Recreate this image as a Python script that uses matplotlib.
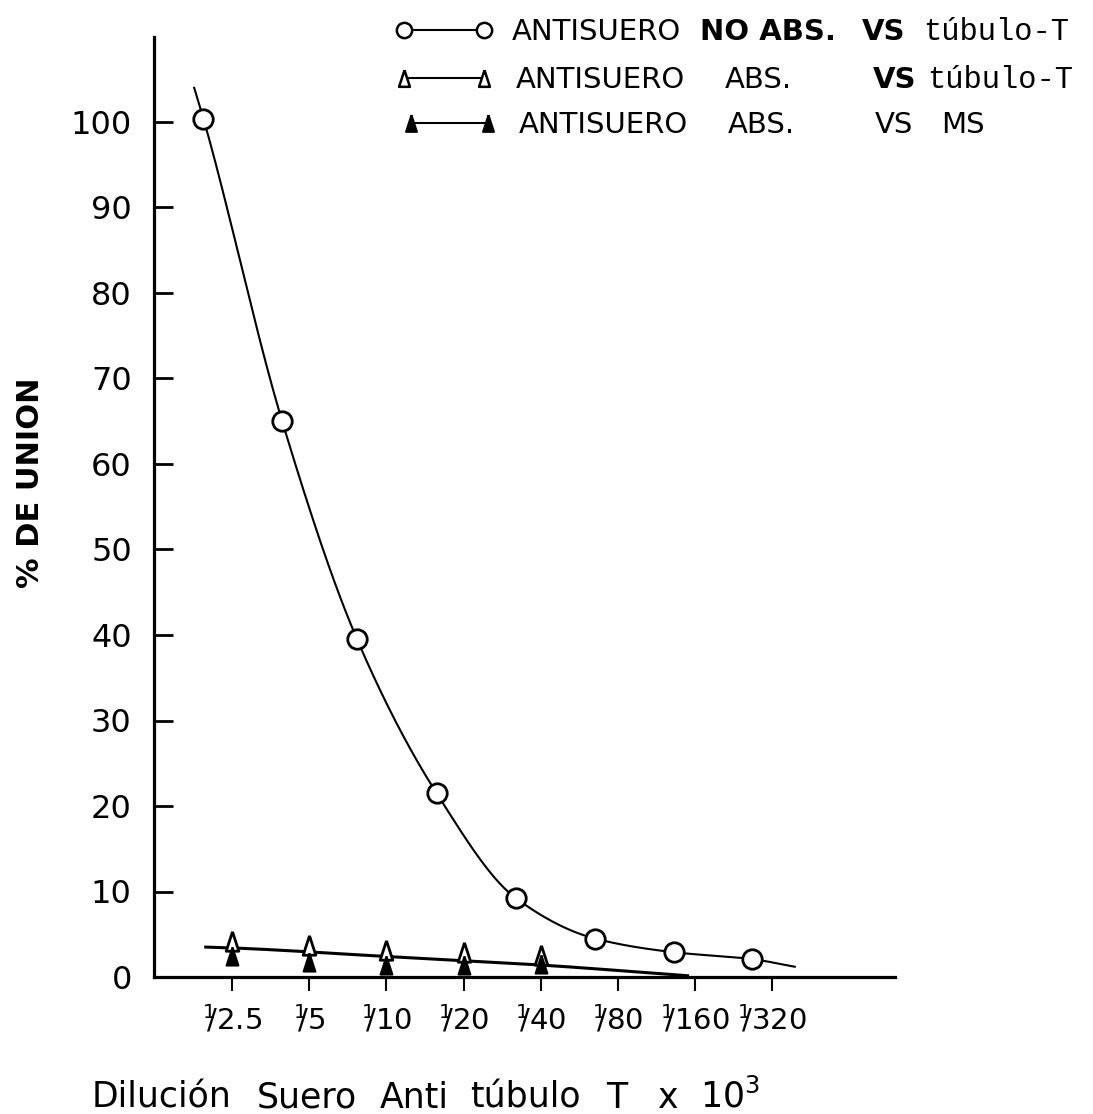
import numpy as np
import matplotlib
matplotlib.use("Agg")
import matplotlib.pyplot as plt
from matplotlib.lines import Line2D

plt.rcParams['font.family'] = ['DejaVu Sans']
plt.rcParams['mathtext.fontset'] = 'dejavusans'

# dilution ticks (1/x), plotted at equal spacing
dilutions = ['2.5', '5', '10', '20', '40', '80', '160', '320']

# open circles: antisuero no absorbido vs tubulo-T (x in tick units)
circle_x = [-0.37, 0.65, 1.62, 2.65, 3.68, 4.70, 5.72, 6.73]
circle_y = [100.4, 65.0, 39.5, 21.5, 9.2, 4.5, 2.9, 2.1]
# hand drawn curve through them, start and end
curve_start = (-0.49, 104.0)
curve_end = (7.29, 1.2)

# triangles at the first five dilutions
tri_x = [0, 1, 2, 3, 4]
open_tri = [4.2, 3.7, 3.1, 2.9, 2.6]     # antisuero abs. vs tubulo-T
filled_tri = [2.4, 1.8, 1.4, 1.4, 1.5]   # antisuero abs. vs MS
tri_line_x = [-0.34, 0.0, 2.0, 4.0, 5.9]
tri_line_y = [3.5, 3.4, 2.4, 1.4, 0.15]

yticks = [0, 10, 20, 30, 40, 50, 60, 70, 80, 90, 100]


def pchip(x, y, xs):
    # monotone cubic so the drawn curve doesn't wiggle
    x = np.asarray(x, float); y = np.asarray(y, float)
    h = np.diff(x); d = np.diff(y) / h
    m = np.zeros_like(y)
    for k in range(1, len(x) - 1):
        if d[k-1] * d[k] > 0:
            w1 = 2*h[k] + h[k-1]; w2 = h[k] + 2*h[k-1]
            m[k] = (w1 + w2) / (w1/d[k-1] + w2/d[k])
    m[0] = d[0]; m[-1] = d[-1]
    i = np.clip(np.searchsorted(x, xs) - 1, 0, len(x) - 2)
    t = (xs - x[i]) / h[i]
    h00 = 2*t**3 - 3*t**2 + 1; h10 = t**3 - 2*t**2 + t
    h01 = -2*t**3 + 3*t**2; h11 = t**3 - t**2
    return h00*y[i] + h10*h[i]*m[i] + h01*y[i+1] + h11*h[i]*m[i+1]


W, H = 1093, 1114
fig = plt.figure(figsize=(W/100, H/100), dpi=100)

def fp(x, y):
    return x / W, 1 - y / H

ax_left, ax_right, ax_top, ax_bot = 154, 895, 37, 977
ax = fig.add_axes([ax_left/W, 1 - ax_bot/H, (ax_right-ax_left)/W, (ax_bot-ax_top)/H])

kx = [curve_start[0]] + circle_x + [curve_end[0]]
ky = [curve_start[1]] + circle_y + [curve_end[1]]
xs = np.linspace(kx[0], kx[-1], 400)
ax.plot(xs, pchip(kx, ky, xs), color='black', lw=1.5)
ax.plot(circle_x, circle_y, 'o', ms=14, mfc='white', mec='black', mew=2, clip_on=False)

xs2 = np.linspace(tri_line_x[0], tri_line_x[-1], 200)
ax.plot(xs2, pchip(tri_line_x, tri_line_y, xs2), color='black', lw=2.2)

tri = [(0, 1), (-0.65, -1), (0.65, -1), (0, 1)]
ax.plot(tri_x, open_tri, ls='none', marker=tri, ms=14, mfc='white', mec='black', mew=2, clip_on=False)
ax.plot(tri_x, filled_tri, ls='none', marker=tri, ms=13, mfc='black', mec='black', mew=1.5, clip_on=False)

ax.set_xlim((ax_left - 232) / 77.2, (ax_right - 232) / 77.2)
ax.set_ylim(0, (ax_bot - ax_top) / 8.55)

ax.set_xticks(range(len(dilutions)))
ax.set_xticklabels([r'$^{\mathregular{1}}\!\!/\mathregular{%s}$' % d for d in dilutions], fontsize=21)
ax.set_yticks(yticks)
ax.set_yticklabels([str(v) for v in yticks], fontsize=23)
ax.tick_params(axis='x', direction='out', length=10, width=1.5, pad=9)
ax.tick_params(axis='y', direction='in', length=14, width=2, pad=16)

for s in ['top', 'right']:
    ax.spines[s].set_visible(False)
for s in ['left', 'bottom']:
    ax.spines[s].set_linewidth(2.3)

fig.text(*fp(31, 483), '% DE UNION', rotation=90, fontsize=22, fontweight='bold',
         ha='center', va='center')

# x title, words spaced out like the typed original
title_words = [('Dilución', 92), ('Suero', 257), ('Anti', 380), ('túbulo', 470),
               ('T', 606), ('x', 658), (r'10$^{3}$', 700)]
for w, x in title_words:
    fig.text(*fp(x, 1108), w, fontsize=25, ha='left', va='baseline')

# legend drawn by hand like the original
rows = [30, 78, 123]
fig.add_artist(Line2D([404/W, 484/W], [fp(0, rows[0])[1]]*2, transform=fig.transFigure,
                      color='black', lw=1.5, marker='o', ms=11, mfc='white', mec='black', mew=1.8))
fig.add_artist(Line2D([404/W, 484/W], [fp(0, rows[1])[1]]*2, transform=fig.transFigure,
                      color='black', lw=1.5, marker=tri, ms=12, mfc='white', mec='black', mew=1.8))
fig.add_artist(Line2D([411/W, 488/W], [fp(0, rows[2])[1]]*2, transform=fig.transFigure,
                      color='black', lw=1.5, marker=tri, ms=12, mfc='black', mec='black', mew=1.5))

lf = 21
mono = 22
def leg(x, row, s, **kw):
    fig.text(*fp(x, row + 10), s, va='baseline', **kw)

leg(512, rows[0], 'ANTISUERO', fontsize=lf)
leg(700, rows[0], 'NO ABS.', fontsize=lf, fontweight='bold')
leg(862, rows[0], 'VS', fontsize=lf, fontweight='bold')
leg(923, rows[0], 'túbulo-T', fontsize=mono, family='Liberation Mono')

leg(516, rows[1], 'ANTISUERO', fontsize=lf)
leg(725, rows[1], 'ABS.', fontsize=lf)
leg(873, rows[1], 'VS', fontsize=lf, fontweight='bold')
leg(927, rows[1], 'túbulo-T', fontsize=mono, family='Liberation Mono')

leg(519, rows[2], 'ANTISUERO', fontsize=lf)
leg(728, rows[2], 'ABS.', fontsize=lf)
leg(875, rows[2], 'VS', fontsize=lf)
leg(941, rows[2], 'MS', fontsize=lf)

fig.savefig('out.png', dpi=100, facecolor='white')
